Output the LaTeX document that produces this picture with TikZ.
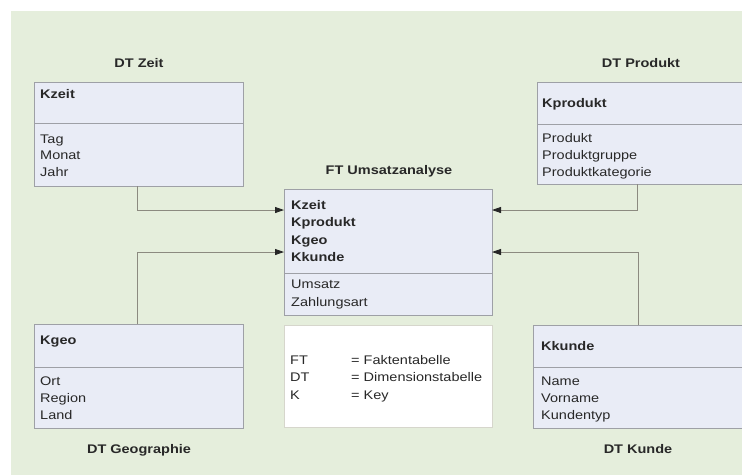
\documentclass[tikz,border=0pt]{standalone}
\usepackage{fontspec}
\setmainfont{Liberation Sans}[FakeStretch=1.16]
\usetikzlibrary{arrows.meta}

\definecolor{bggreen}{RGB}{229,238,220}
\definecolor{tblfill}{RGB}{233,236,246}
\definecolor{tbledge}{RGB}{158,160,166}
\definecolor{linkcol}{RGB}{140,138,128}
\definecolor{legedge}{RGB}{214,214,204}
\definecolor{txt}{RGB}{40,40,40}

\tikzset{
  tbl/.style={draw=tbledge, fill=tblfill, line width=0.9pt, rectangle,
    inner sep=0pt, outer sep=0pt, anchor=north west},
  legbox/.style={draw=legedge, fill=white, line width=0.9pt, rectangle,
    inner sep=0pt, outer sep=0pt, anchor=north west},
  divl/.style={draw=tbledge, line width=0.9pt},
  fld/.style={anchor=base west, inner sep=0pt, text=txt,
    font=\fontsize{12.5}{15}\selectfont},
  key/.style={fld, font=\fontsize{12.5}{15}\selectfont\bfseries},
  ttl/.style={anchor=base, inner sep=0pt, text=txt,
    font=\fontsize{12.5}{15}\selectfont\bfseries},
  link/.style={draw=linkcol, line width=0.8pt},
  arr/.style={link, -{Triangle[length=9pt,width=6pt,fill=black!85,color=black!85]}},
}

\begin{document}
\begin{tikzpicture}[x=1pt,y=-1pt]
  \clip (0,0) rectangle (742,475);
  \fill[white] (0,0) rectangle (742,475);
  \fill[bggreen] (11,11) rectangle (742,475);

  % dimension and fact tables
  \node[tbl, minimum width=209pt, minimum height=104pt] (zeit) at (34,82) {};
  \node[tbl, minimum width=220pt, minimum height=102pt] (prod) at (537,82) {};
  \node[tbl, minimum width=208pt, minimum height=126pt] (ft) at (284,189) {};
  \node[legbox, minimum width=208pt, minimum height=102pt] (leg) at (284,325) {};
  \node[tbl, minimum width=209pt, minimum height=104pt] (geo) at (34,324) {};
  \node[tbl, minimum width=220pt, minimum height=103pt] (kunde) at (533,325) {};

  % key / attribute separators
  \draw[divl] (zeit.west |- 0,123) -- (zeit.east |- 0,123);
  \draw[divl] (prod.west |- 0,124) -- (prod.east |- 0,124);
  \draw[divl] (ft.west |- 0,273) -- (ft.east |- 0,273);
  \draw[divl] (geo.west |- 0,367) -- (geo.east |- 0,367);
  \draw[divl] (kunde.west |- 0,367) -- (kunde.east |- 0,367);

  % titles
  \node[ttl] (tzeit) at (139,67) {DT Zeit};
  \node[ttl] (tprod) at (641,67) {DT Produkt};
  \node[ttl] (tft) at (389,174) {FT Umsatzanalyse};
  \node[ttl] (tgeo) at (139,453) {DT Geographie};
  \node[ttl] (tkunde) at (638,453) {DT Kunde};

  % DT Zeit
  \node[key] (zk) at (40,98) {Kzeit};
  \foreach \t [count=\i] in {Tag,Monat,Jahr}
    \node[fld] (za\i) at (40,126.5+16.5*\i) {\t};

  % DT Produkt
  \node[key] (pk) at (542,107) {Kprodukt};
  \foreach \t [count=\i] in {Produkt,Produktgruppe,Produktkategorie}
    \node[fld] (pa\i) at (542,125+17*\i) {\t};

  % FT Umsatzanalyse
  \foreach \t [count=\i] in {Kzeit,Kprodukt,Kgeo,Kkunde}
    \node[key] (fk\i) at (291,191.5+17.5*\i) {\t};
  \node[fld] (fa1) at (291,288) {Umsatz};
  \node[fld] (fa2) at (291,306) {Zahlungsart};

  % legend
  \foreach \a/\b [count=\i] in {FT/Faktentabelle,DT/Dimensionstabelle,K/Key}{
    \node[fld] (la\i) at (290,346.5+17.5*\i) {\a};
    \node[fld] (lb\i) at (351,346.5+17.5*\i) {= \b};
  }

  % DT Geographie
  \node[key] (gk) at (40,344) {Kgeo};
  \foreach \t [count=\i] in {Ort,Region,Land}
    \node[fld] (ga\i) at (40,368+17*\i) {\t};

  % DT Kunde
  \node[key] (kk) at (541,350) {Kkunde};
  \foreach \t [count=\i] in {Name,Vorname,Kundentyp}
    \node[fld] (ka\i) at (541,368+17.3*\i) {\t};

  % foreign key references
  \draw[arr] (zeit.south -| 137,0) |- (ft.west |- 0,210);
  \draw[arr] (geo.north -| 137,0) |- (ft.west |- 0,252);
  \draw[arr] (prod.south -| 637,0) |- (ft.east |- 0,210);
  \draw[arr] (kunde.north -| 638,0) |- (ft.east |- 0,252);
\end{tikzpicture}
\end{document}
